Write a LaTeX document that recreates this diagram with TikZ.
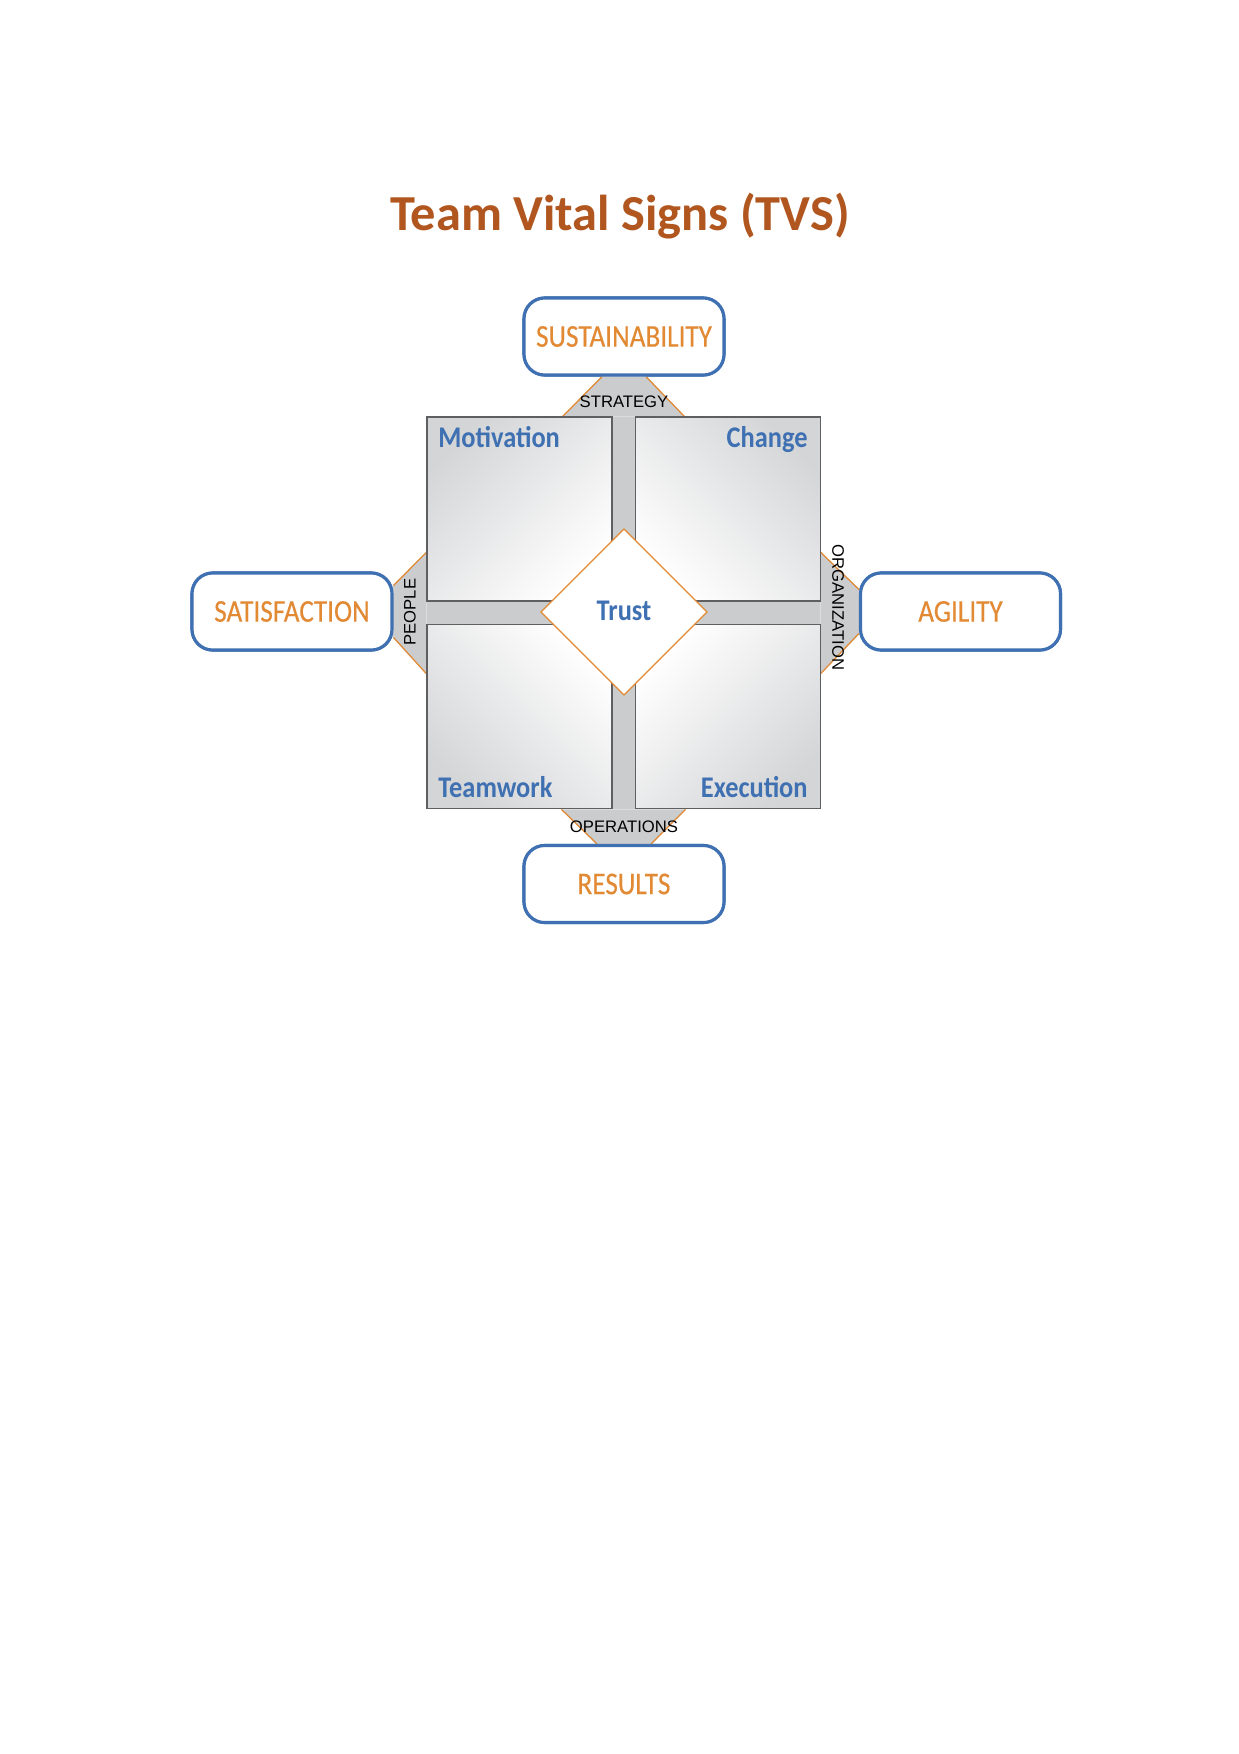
\documentclass[tikz,border=0pt]{standalone}
\usepackage{fontspec}
\setmainfont{Carlito}
\newfontfamily\condfont[FakeStretch=0.86,FakeBold=0.4]{Carlito}
\newfontfamily\labfont[FakeStretch=0.88]{Carlito}
\newfontfamily\smallfont{Liberation Sans}
\usetikzlibrary{calc,shapes.geometric}
\definecolor{titlec}{RGB}{176,86,30}
\definecolor{orangec}{RGB}{226,137,52}
\definecolor{bluec}{RGB}{62,112,178}
\definecolor{chan}{RGB}{203,204,206}
\definecolor{quadedge}{RGB}{95,95,95}
\definecolor{quadc}{RGB}{212,213,215}
\tikzset{
  outbox/.style={draw=bluec, line width=1.5pt, rounded corners=10pt, fill=white,
    minimum width=96pt, minimum height=37pt, inner sep=0pt,
    text=orangec, font=\condfont\fontsize{15.2}{18}\selectfont},
  quad/.style={draw=quadedge, line width=0.7pt, minimum width=88.8pt, minimum height=88.3pt,
    inner sep=0pt, top color=quadc, bottom color=white},
  quadlab/.style={text=bluec, font=\labfont\bfseries\fontsize{14.4}{17}\selectfont, inner sep=0pt},
  smalllab/.style={font=\smallfont\fontsize{8}{9}\selectfont, inner sep=0pt, text=black},
  trap/.style={fill=chan},
  trapside/.style={draw=orangec, line width=0.6pt},
}
\begin{document}
\begin{tikzpicture}[x=0.48pt,y=-0.48pt]
\useasboundingbox (0,0) rectangle (1239,1754);
\fill[white] (0,0) rectangle (1239,1754);

% title
\node[anchor=base, text=titlec, font=\bfseries\fontsize{24.2}{29}\selectfont, inner sep=0pt] (title) at (620,230) {Team Vital Signs (TVS)};

% outer boxes
\node[outbox] (sus) at (624,336.5) {SUSTAINABILITY};
\node[outbox] (res) at (624,884) {RESULTS};
\node[outbox] (sat) at (292,611.5) {SATISFACTION};
\node[outbox] (agi) at (960.5,611.5) {AGILITY};

% grid background (channels)
\node[fill=chan, minimum width=188.6pt, minimum height=188.2pt, inner sep=0pt] (grid) at (623.5,613) {};

% trapezoids
\fill[trap] ($(sus.south)+(-22,-1)$) -- ($(sus.south)+(22,-1)$) -- ($(grid.north)+(61,0)$) -- ($(grid.north)+(-61,0)$) -- cycle;
\draw[trapside] ($(sus.south)+(-22,0)$) -- ($(grid.north)+(-61,0)$);
\draw[trapside] ($(sus.south)+(22,0)$) -- ($(grid.north)+(61,0)$);

\fill[trap] ($(res.north)+(-27,1)$) -- ($(res.north)+(27,1)$) -- ($(grid.south)+(62,0)$) -- ($(grid.south)+(-62,0)$) -- cycle;
\draw[trapside] ($(res.north)+(-27,0)$) -- ($(grid.south)+(-62,0)$);
\draw[trapside] ($(res.north)+(27,0)$) -- ($(grid.south)+(62,0)$);

\fill[trap] ($(sat.east)+(-1,-26)$) -- ($(sat.east)+(-1,26)$) -- ($(grid.west)+(0,61)$) -- ($(grid.west)+(0,-61)$) -- cycle;
\draw[trapside] ($(sat.east)+(0,-26)$) -- ($(grid.west)+(0,-61)$);
\draw[trapside] ($(sat.east)+(0,26)$) -- ($(grid.west)+(0,61)$);

\fill[trap] ($(agi.west)+(1,-22)$) -- ($(agi.west)+(1,22)$) -- ($(grid.east)+(0,61)$) -- ($(grid.east)+(0,-61)$) -- cycle;
\draw[trapside] ($(agi.west)+(0,-22)$) -- ($(grid.east)+(0,-61)$);
\draw[trapside] ($(agi.west)+(0,22)$) -- ($(grid.east)+(0,61)$);

% redraw boxes on top of trapezoid joints
\node[outbox] at (sus) {SUSTAINABILITY};
\node[outbox] at (res) {RESULTS};
\node[outbox] at (sat) {SATISFACTION};
\node[outbox] at (agi) {AGILITY};

% quadrants
\node[quad, shading angle=45] (mot) at (519.5,509) {};
\node[quad, shading angle=-45] (chg) at (728,509) {};
\node[quad, shading angle=135] (tw) at (519.5,716.5) {};
\node[quad, shading angle=-135] (exe) at (728,716.5) {};

\node[quadlab, anchor=base west] (lmot) at (438,447) {Motivation};
\node[quadlab, anchor=base east] (lchg) at (808,447) {Change};
\node[quadlab, anchor=base west] (ltw) at (438,797) {Teamwork};
\node[quadlab, anchor=base east] (lexe) at (808,797) {Execution};

% centre diamond
\node[diamond, aspect=1, draw=orangec, line width=0.6pt, fill=white, minimum size=80pt, inner sep=0pt] (trust) at (624,612) {};
\node[quadlab, anchor=base] (ltrust) at (624,620) {Trust};

% channel labels
\node[smalllab, anchor=base] (lstr) at (624,407) {STRATEGY};
\node[smalllab, anchor=base] (lops) at (624,832) {OPERATIONS};
\node[smalllab, rotate=90] (lpeo) at (410,612) {PEOPLE};
\node[smalllab, rotate=-90] (lorg) at (838,607.5) {ORGANIZATION};
\end{tikzpicture}
\end{document}
